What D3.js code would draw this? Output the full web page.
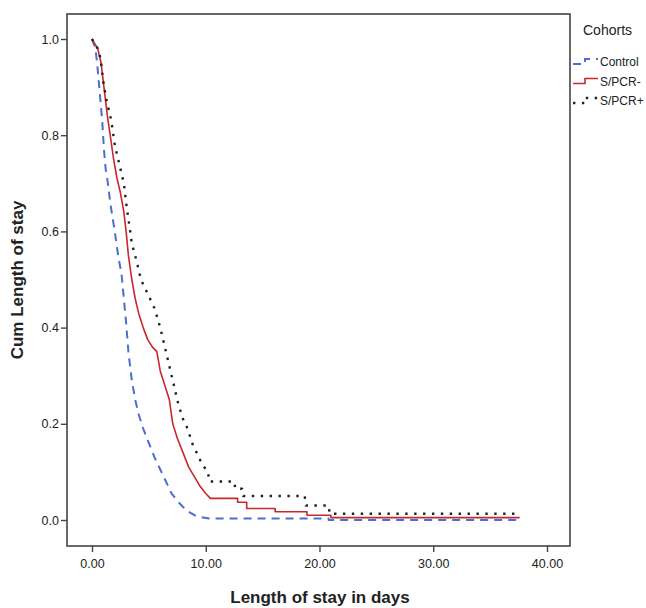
<!DOCTYPE html>
<html>
<head>
<meta charset="utf-8">
<script src="https://cdn.jsdelivr.net/npm/d3@7"></script>
<style>
  body { margin: 0; background: #fff; }
  text { font-family: "Liberation Sans", Arial, sans-serif; fill: #222; }
</style>
</head>
<body>
<svg id="chart" width="646" height="608"></svg>
<script>
// curves: [day, cumulative proportion]
// flat tails are written with their corners so the steps show
var controlData = [[0,1.0],[0.3,0.98],[0.45,0.95],[0.6,0.91],[0.75,0.87],[0.9,0.83],[1.05,0.77],
   [1.2,0.73],[1.4,0.70],[1.6,0.66],[1.8,0.63],[2.0,0.60],[2.3,0.55],[2.6,0.51],[2.8,0.46],
   [3.0,0.41],[3.2,0.35],[3.5,0.29],[3.8,0.25],[4.1,0.22],[4.5,0.19],[5.0,0.16],[5.5,0.13],
   [6.0,0.105],[6.5,0.08],[7.0,0.055],[7.5,0.04],[8.0,0.027],[8.5,0.017],[9.0,0.01],
   [9.6,0.006],[10.3,0.003],[20.8,0.003],[20.8,0],[37.6,0]];
var pcrNegData = [[0,1.0],[0.5,0.98],[0.8,0.95],[1.0,0.91],[1.2,0.87],[1.35,0.84],[1.6,0.80],
   [1.9,0.75],[2.2,0.71],[2.5,0.68],[2.8,0.64],[3.0,0.60],[3.2,0.55],[3.5,0.50],[3.8,0.46],
   [4.1,0.43],[4.5,0.40],[4.9,0.375],[5.3,0.36],[5.7,0.35],[6.0,0.31],[6.4,0.28],[6.8,0.25],
   [7.1,0.20],[7.5,0.17],[8.0,0.14],[8.5,0.11],[9.0,0.09],[9.5,0.07],[10.0,0.055],
   [10.4,0.045],[12.8,0.045],[12.8,0.037],[13.6,0.037],[13.6,0.024],[16.1,0.024],[16.1,0.017],
   [18.9,0.017],[18.9,0.01],[21.0,0.01],[21.0,0.005],[37.6,0.005]];
var pcrPosData = [[0,1.0],[0.5,0.98],[0.75,0.96],[1.0,0.91],[1.3,0.87],[1.7,0.83],[2.0,0.78],
   [2.4,0.74],[2.8,0.70],[3.05,0.65],[3.3,0.61],[3.5,0.575],[3.9,0.54],[4.3,0.50],[4.9,0.47],
   [5.5,0.44],[6.0,0.40],[6.4,0.36],[6.9,0.31],[7.3,0.27],[7.6,0.24],[8.0,0.21],[8.4,0.19],
   [8.8,0.16],[9.2,0.14],[9.7,0.115],[10.2,0.1],[10.3,0.08],[12.5,0.08],[12.6,0.065],
   [13.2,0.065],[13.3,0.05],[18.7,0.05],[18.8,0.03],[20.8,0.03],[20.9,0.013],[37.6,0.013]];

var cohortNames = ["Control", "S/PCR-", "S/PCR+"];
var xTicks = [0, 10, 20, 30, 40];
var yTicks = [0, 0.2, 0.4, 0.6, 0.8, 1.0];

var svg = d3.select("#chart");
var frame = {left: 67, right: 570, top: 14, bottom: 546};

var x = d3.scaleLinear().domain([0, 40]).range([92, 547]);
var y = d3.scaleLinear().domain([0, 1]).range([520, 39]);

var styles = [
   {color: "#4a6fd0", dash: "8,6", width: 2},
   {color: "#c8282d", dash: null, width: 1.6},
   {color: "#222", dash: "2.4,6.5", width: 2.4}
];
var series = [controlData, pcrNegData, pcrPosData];

// frame
svg.append("rect")
   .attr("x", frame.left).attr("y", frame.top)
   .attr("width", frame.right - frame.left)
   .attr("height", frame.bottom - frame.top)
   .attr("fill", "#fff")
   .attr("stroke", "#444")
   .attr("stroke-width", 1.6);

// axes
var yAxis = svg.append("g")
   .attr("transform", "translate(" + frame.left + ",0)")
   .call(d3.axisLeft(y).tickValues(yTicks).tickFormat(d3.format(".1f")).tickSize(6).tickSizeOuter(0));
var xAxis = svg.append("g")
   .attr("transform", "translate(0," + frame.bottom + ")")
   .call(d3.axisBottom(x).tickValues(xTicks).tickFormat(d3.format(".2f")).tickSize(6).tickSizeOuter(0));

[xAxis, yAxis].forEach(function(ax) {
   ax.select(".domain").remove();
   ax.selectAll("line").attr("stroke", "#444").attr("stroke-width", 1.4);
   ax.selectAll("text").style("font-size", "12.5px").attr("fill", "#222");
});
yAxis.selectAll("text").attr("x", -8);
xAxis.selectAll("text").attr("y", 13);

// curves
var line = d3.line()
   .x(function(d) { return x(d[0]); })
   .y(function(d) { return y(d[1]); });

series.forEach(function(data, i) {
   svg.append("path")
      .datum(data)
      .attr("d", line)
      .attr("fill", "none")
      .attr("stroke", styles[i].color)
      .attr("stroke-width", styles[i].width)
      .attr("stroke-dasharray", styles[i].dash)
      .attr("stroke-linejoin", "round");
});

// axis titles
svg.append("text")
   .attr("x", 320).attr("y", 603)
   .attr("text-anchor", "middle")
   .style("font-size", "17px").style("font-weight", "bold")
   .text("Length of stay in days");
svg.append("text")
   .attr("transform", "translate(23,280) rotate(-90)")
   .attr("text-anchor", "middle")
   .style("font-size", "17px").style("font-weight", "bold")
   .text("Cum Length of stay");

// legend
var legend = svg.append("g");
legend.append("text")
   .attr("x", 583).attr("y", 35)
   .style("font-size", "14px")
   .text("Cohorts");
cohortNames.forEach(function(name, i) {
   var cy = 62 + i * 19.5;
   var pts = [[573, cy + 2], [585, cy + 2], [585, cy - 3], [598, cy - 3]];
   legend.append("path")
      .attr("d", d3.line()(pts))
      .attr("fill", "none")
      .attr("stroke", styles[i].color)
      .attr("stroke-width", styles[i].width)
      .attr("stroke-dasharray", styles[i].dash);
   legend.append("text")
      .attr("x", 600).attr("y", cy + 4)
      .style("font-size", "12px")
      .text(name);
});
</script>
</body>
</html>
